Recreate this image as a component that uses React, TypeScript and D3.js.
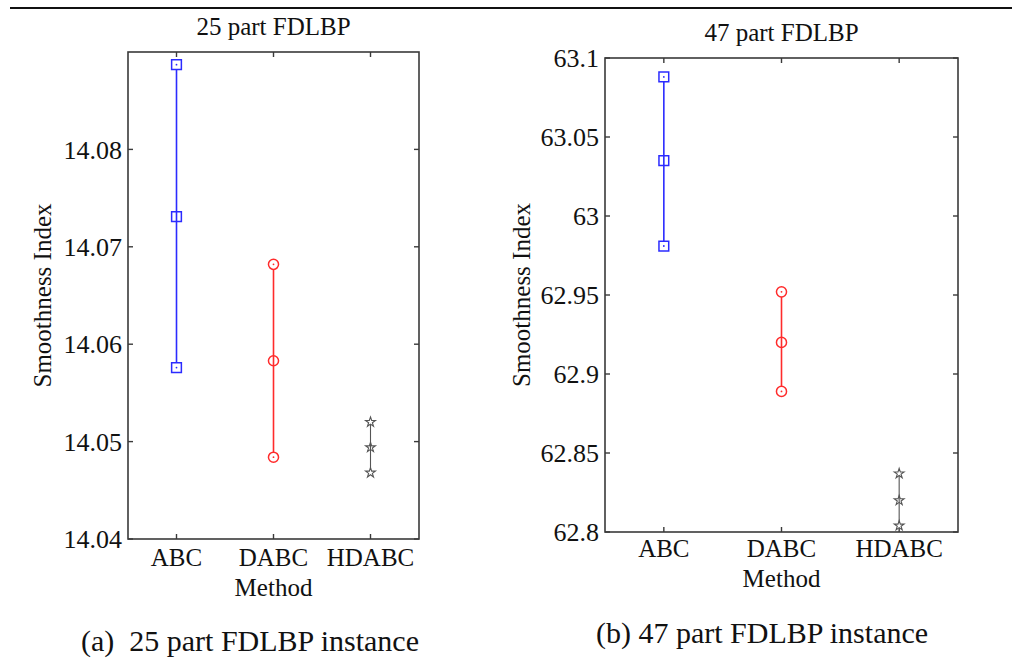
import React from 'react';
import * as d3 from 'd3';

// methods on the x axis
const methods = ['ABC', 'DABC', 'HDABC'];

// 25 part instance: [upper, mean, lower] per method
const part25Abc = [14.0887, 14.0731, 14.0576];
const part25Dabc = [14.0682, 14.0583, 14.0484];
const part25Hdabc = [14.052, 14.0494, 14.0468];
const part25Ticks = [14.04, 14.05, 14.06, 14.07, 14.08];
const part25Domain = [14.04, 14.09];

// 47 part instance
const part47Abc = [63.088, 63.035, 62.981];
const part47Dabc = [62.952, 62.92, 62.889];
const part47Hdabc = [62.837, 62.82, 62.804];
const part47Ticks = [62.8, 62.85, 62.9, 62.95, 63, 63.05, 63.1];
const part47Domain = [62.8, 63.1];

const FONT = 'Liberation Serif, DejaVu Serif, serif';
const markerColors = ['#2b2bff', '#ff2b2b', '#555555'];
const markerShapes = [d3.symbolSquare, d3.symbolCircle, d3.symbolStar];
const markerSizes = [95, 80, 30];

type PanelProps = {
  title: string;
  caption: string;
  series: number[][];
  ticks: number[];
  domain: number[];
  box: { left: number; right: number; top: number; bottom: number };
  yLabelX: number;
  xLabelY: number;
  methodY: number;
  captionX: number;
  captionY: number;
};

const Panel = ({ title, caption, series, ticks, domain, box, yLabelX, xLabelY, methodY, captionX, captionY }: PanelProps) => {
  const x = d3.scaleBand().domain(methods).range([box.left, box.right]).padding(0);
  const y = d3.scaleLinear().domain(domain).range([box.bottom, box.top]);
  const cx = (m: string) => (x(m) as number) + x.bandwidth() / 2;
  const tickLen = 5;
  const frame = '#3a3a3a';
  const fmt = (v: number) => String(+v.toFixed(2));

  return (
    <g>
      <text x={(box.left + box.right) / 2} y={box.top - 17} textAnchor="middle" fontSize={25} fill="#111">
        {title}
      </text>

      {/* inner ticks on all four sides, matlab style */}
      {ticks.map((t) => (
        <g key={'yt' + t}>
          <line x1={box.left} x2={box.left + tickLen} y1={y(t)} y2={y(t)} stroke={frame} strokeWidth={1.4} />
          <line x1={box.right} x2={box.right - tickLen} y1={y(t)} y2={y(t)} stroke={frame} strokeWidth={1.4} />
          <text x={box.left - 6} y={y(t)} dy="0.35em" textAnchor="end" fontSize={26} fill="#111">
            {fmt(t)}
          </text>
        </g>
      ))}
      {methods.map((m) => (
        <g key={'xt' + m}>
          <line x1={cx(m)} x2={cx(m)} y1={box.bottom} y2={box.bottom - tickLen} stroke={frame} strokeWidth={1.4} />
          <line x1={cx(m)} x2={cx(m)} y1={box.top} y2={box.top + tickLen} stroke={frame} strokeWidth={1.4} />
          <text x={cx(m)} y={xLabelY} textAnchor="middle" fontSize={25} fill="#111">
            {m}
          </text>
        </g>
      ))}
      <rect
        x={box.left}
        y={box.top}
        width={box.right - box.left}
        height={box.bottom - box.top}
        fill="none"
        stroke={frame}
        strokeWidth={1.6}
      />

      <text x={(box.left + box.right) / 2} y={methodY} textAnchor="middle" fontSize={25} fill="#111">
        Method
      </text>
      <text
        transform={`translate(${yLabelX}, ${(box.top + box.bottom) / 2}) rotate(-90)`}
        textAnchor="middle"
        fontSize={25}
        fill="#111"
      >
        Smoothness Index
      </text>

      {series.map((vals, i) => {
        const m = methods[i];
        const sym = d3.symbol().type(markerShapes[i]).size(markerSizes[i]);
        const lo = Math.min(...vals);
        const hi = Math.max(...vals);
        return (
          <g key={m}>
            <line
              x1={cx(m)}
              x2={cx(m)}
              y1={y(hi)}
              y2={y(lo)}
              stroke={markerColors[i]}
              strokeWidth={i === 2 ? 1.1 : 1.6}
            />
            {vals.map((v, j) => (
              <g key={j} transform={`translate(${cx(m)}, ${y(v)})`}>
                <path
                  d={sym() as string}
                  fill={j === 1 ? 'none' : '#fff'}
                  stroke={markerColors[i]}
                  strokeWidth={i === 2 ? 1.1 : 1.5}
                />
                {j !== 1 && i < 2 && <circle r={0.9} fill={markerColors[i]} />}
              </g>
            ))}
          </g>
        );
      })}

      <text x={captionX} y={captionY} textAnchor="middle" fontSize={30} fill="#111" style={{ whiteSpace: 'pre' }}>
        {caption}
      </text>
    </g>
  );
};

const App = () => {
  return (
    <svg
      width={1021}
      height={672}
      style={{ position: 'absolute', left: 0, top: 0, background: '#fff', fontFamily: FONT }}
    >
      <rect width={1021} height={672} fill="#fff" />
      <line x1={10} x2={1012} y1={8} y2={8} stroke="#111" strokeWidth={2.2} />
      <Panel
        title="25 part FDLBP"
        caption="(a)  25 part FDLBP instance"
        series={[part25Abc, part25Dabc, part25Hdabc]}
        ticks={part25Ticks}
        domain={part25Domain}
        box={{ left: 128, right: 419, top: 52, bottom: 539 }}
        yLabelX={51}
        xLabelY={566}
        methodY={596}
        captionX={250}
        captionY={651}
      />
      <Panel
        title="47 part FDLBP"
        caption="(b) 47 part FDLBP instance"
        series={[part47Abc, part47Dabc, part47Hdabc]}
        ticks={part47Ticks}
        domain={part47Domain}
        box={{ left: 605, right: 958, top: 58, bottom: 532 }}
        yLabelX={530}
        xLabelY={557}
        methodY={587}
        captionX={762}
        captionY={643}
      />
    </svg>
  );
};

export default App;
